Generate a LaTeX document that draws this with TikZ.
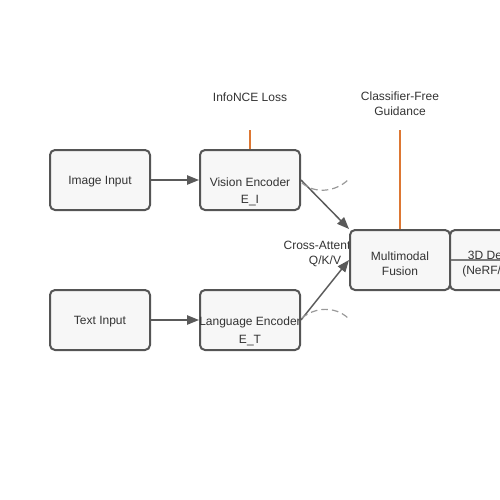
\documentclass[tikz,border=0pt]{standalone}
\usepackage{fontspec}
\setmainfont{Liberation Sans}
\usetikzlibrary{arrows.meta}
\definecolor{boxfill}{HTML}{F7F7F7}
\definecolor{boxline}{HTML}{555555}
\definecolor{txt}{HTML}{333333}
\definecolor{edge}{HTML}{5A5A5A}
\definecolor{orng}{HTML}{DD7733}
\definecolor{dashc}{HTML}{999999}
\begin{document}
\begin{tikzpicture}[x=0.75pt,y=-0.75pt,
  box/.style={draw=boxline,fill=boxfill,line width=1.5pt,rounded corners=3.75pt,minimum width=75pt,minimum height=45pt,inner sep=0pt},
  lbl/.style={text=txt,font=\fontsize{9pt}{11.25pt}\selectfont,align=center,inner sep=0pt},
  arr/.style={draw=edge,line width=1.1pt,-{Triangle[length=9pt,width=7pt]}},
  guide/.style={draw=orng,line width=1.5pt},
  sim/.style={draw=dashc,line width=0.9pt,dash pattern=on 5pt off 3pt}]
\useasboundingbox (0,0) rectangle (500,500);
% labels drawn beneath boxes
\node[lbl] (ca) at (325,254) {Cross-Attention\\Q/K/V};
\node[lbl] (info) at (250,97) {InfoNCE Loss};
\node[lbl] (cfg) at (400,104) {Classifier-Free\\Guidance};
% boxes
\node[box] (img) at (100,180) {};
\node[box] (vis) at (250,180) {};
\node[box] (txtin) at (100,320) {};
\node[box] (lang) at (250,320) {};
\node[box] (fus) at (400,260) {};
\node[box] (dec) at (500,260) {};
% box texts
\node[lbl] (imgt) at (100,182) {Image Input};
\node[lbl] (vist) at (250,182) {Vision Encoder};
\node[lbl] (visi) at (250,201) {E\_I};
\node[lbl] (txtt) at (100,322) {Text Input};
\begin{scope}
\clip (190,300) rectangle (298.5,332);
\node[lbl] (langt) at (250,322) {Language Encoder};
\end{scope}
\node[lbl] (langi) at (250,341) {E\_T};
\node[lbl] (fust) at (400,264) {Multimodal\\Fusion};
\node[lbl] (dect) at (500,264) {3D Decoder\\(NeRF/3DGS)};
% guidance lines
\coordinate (infoend) at (250,130);
\coordinate (cfgend) at (400,130);
\draw[guide] (infoend) -- (vis.north);
\draw[guide] (cfgend) -- (fus.north);
% edges
\draw[arr] (img.east) -- (vis.west);
\draw[arr] (txtin.east) -- (lang.west);
\draw[arr] (vis.east) -- (fus.north west);
\draw[arr] (lang.east) -- (fus.west);
\coordinate (decend) at (560,260);
\draw[draw=edge!80,line width=1pt] (fus.east) -- (decend);
% similarity arcs
\coordinate (s1) at (302,183);
\coordinate (e1) at (348,180);
\coordinate (s2) at (302,318);
\coordinate (e2) at (348,318);
\draw[sim] (s1) .. controls (315,194) and (335,192) .. (e1);
\draw[sim] (s2) .. controls (315,307) and (335,306) .. (e2);
\end{tikzpicture}
\end{document}
